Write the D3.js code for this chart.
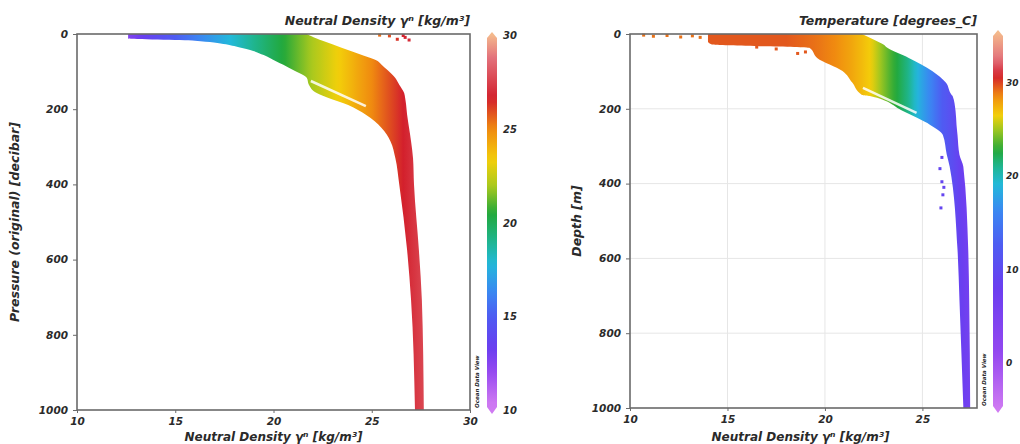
<!DOCTYPE html>
<html>
<head>
<meta charset="utf-8">
<script src="https://cdn.jsdelivr.net/npm/d3@7"></script>
<style>
  body { margin: 0; background: #fff; }
  svg text { font-family: "DejaVu Sans", sans-serif; font-weight: bold; font-style: italic; fill: #2a2a2a; }
</style>
</head>
<body>
<svg id="chart" width="1020" height="444"></svg>
<script>
// ---- data ----
// left panel: envelope of the scatter cloud (pressure in dbar, density bounds)
const leftP    = [0, 12, 18, 37, 56, 72, 82, 96, 117, 135, 157, 170, 189, 215, 250, 285, 330, 400, 575, 707, 1000];
const leftLow  = [12.6, 12.6, 16.0, 18.4, 19.5, 20.1, 20.5, 21.0, 21.7, 21.8, 22.2, 22.8, 23.8, 24.7, 25.5, 25.95, 26.2, 26.4, 26.8, 27.0, 27.2];
const leftHigh = [21.7, 22.2, 22.5, 23.5, 24.5, 25.3, 25.5, 25.8, 26.2, 26.4, 26.65, 26.7, 26.75, 26.8, 26.9, 27.0, 27.1, 27.15, 27.4, 27.55, 27.65];
const leftGap  = [[21.9, 125], [24.7, 192]];
const leftDots = [[25.4, 3], [25.9, 5], [26.3, 14], [26.6, 4], [26.9, 16], [26.7, 9]];

// right panel: envelope (depth in m, density bounds)
const rightP    = [0, 20, 28, 37, 64, 99, 130, 163, 166, 206, 243, 270, 323, 355, 577, 711, 1000];
const rightLow  = [14.0, 14.0, 14.2, 19.2, 19.6, 20.9, 21.4, 21.9, 22.3, 24.0, 25.4, 26.05, 26.25, 26.4, 26.8, 26.9, 27.1];
const rightHigh = [21.9, 22.7, 23.0, 23.2, 24.3, 25.5, 26.2, 26.5, 26.55, 26.7, 26.75, 26.8, 26.9, 27.1, 27.35, 27.4, 27.45];
const rightGap  = [[21.95, 144], [24.7, 211]];
// temperature seen along the density axis
const tempDens = [14, 18, 19.5, 20.5, 21.5, 22.3, 23.3, 24.3, 24.8, 25.4, 26.0, 26.6, 27.0, 27.5];
const tempVals = [29.5, 29.5, 29.0, 28.5, 27.5, 26.5, 23.5, 21, 18.5, 16, 12.5, 10, 8, 6];
const rightDots = [[10.7, 3, 29], [11.2, 6, 29], [11.9, 4, 29], [12.6, 8, 29], [13.2, 5, 29], [13.6, 9, 29],
                   [16.5, 35, 29.5], [17.5, 40, 29.5], [18.6, 52, 29.5], [19.0, 48, 29.5],
                   [26.0, 330, 9], [25.9, 360, 9], [26.0, 395, 9], [26.05, 430, 9], [25.95, 465, 9], [26.1, 410, 9]];

// colour bars (ODV rainbow)
const paletteColors = ["#f4b98c", "#e3727c", "#d3202c", "#f08a10", "#f3cf0a", "#a6c81e", "#22a83a",
                       "#1fb58e", "#22b9da", "#3a88f2", "#4e5cf2", "#6a3ef0", "#9448f0", "#cf7af2"];
const leftStops  = [30, 28.8, 26.6, 25.0, 23.3, 21.9, 20.5, 19.0, 17.8, 16.3, 15.0, 13.3, 12.1, 10.3];
const rightStops = [35.2, 32.4, 30.6, 28.5, 26.4, 25.0, 22.6, 21.0, 19.0, 16.2, 12.5, 8.0, 1.0, -5.0];

const yTicks = [0, 200, 400, 600, 800, 1000];
const leftXTicks = [10, 15, 20, 25, 30];
const rightXTicks = [10, 15, 20, 25];
const leftBarTicks = [10, 15, 20, 25, 30];
const rightBarTicks = [0, 10, 20, 30];

const svg = d3.select("#chart");
const defs = svg.append("defs");

const colorLeft = d3.scaleLinear().domain(leftStops).range(paletteColors).clamp(true);
const colorRight = d3.scaleLinear().domain(rightStops).range(paletteColors).clamp(true);
const tempAt = d3.scaleLinear().domain(tempDens).range(tempVals).clamp(true);

function panel(opt) {
    const x = d3.scaleLinear().domain(opt.xDomain).range(opt.xRange);
    const y = d3.scaleLinear().domain([0, 1000]).range(opt.yRange);   // pressure grows downward
    const top = opt.yRange[0], bottom = opt.yRange[1];
    const g = svg.append("g");

    // grid
    if (opt.grid) {
        g.selectAll(".gx").data(opt.xTicks.slice(1)).enter().append("line")
            .attr("x1", d => x(d)).attr("x2", d => x(d))
            .attr("y1", top).attr("y2", bottom)
            .attr("stroke", "#e6e6e6").attr("stroke-width", 1);
        g.selectAll(".gy").data(yTicks.slice(1, -1)).enter().append("line")
            .attr("x1", opt.xRange[0]).attr("x2", opt.xRange[1])
            .attr("y1", d => y(d)).attr("y2", d => y(d))
            .attr("stroke", "#e6e6e6").attr("stroke-width", 1);
    }

    // horizontal gradient over the density axis
    const gradId = opt.id + "-grad";
    const grad = defs.append("linearGradient").attr("id", gradId)
        .attr("gradientUnits", "userSpaceOnUse")
        .attr("x1", opt.xRange[0]).attr("x2", opt.xRange[1]).attr("y1", 0).attr("y2", 0);
    d3.range(0, 1.0001, 0.01).forEach(t => {
        const dens = x.invert(opt.xRange[0] + t * (opt.xRange[1] - opt.xRange[0]));
        grad.append("stop").attr("offset", t).attr("stop-color", opt.densColor(dens));
    });

    const rows = opt.p.map((p, i) => ({ p, lo: opt.low[i], hi: opt.high[i] }));
    const area = d3.area()
        .y(d => y(d.p))
        .x0(d => x(d.lo))
        .x1(d => x(d.hi))
        .curve(d3.curveMonotoneY);
    g.append("path").datum(rows).attr("d", area).attr("fill", `url(#${gradId})`);

    // white sliver inside the cloud
    g.append("path").datum(opt.gap)
        .attr("d", d3.line().x(d => x(d[0])).y(d => y(d[1])))
        .attr("stroke", "#fff").attr("stroke-width", 2.5).attr("fill", "none").attr("opacity", 0.85);

    g.selectAll(".dot").data(opt.dots).enter().append("rect")
        .attr("x", d => x(d[0]) - 1.5).attr("y", d => y(d[1]) - 1.5)
        .attr("width", 3).attr("height", 3)
        .attr("fill", d => opt.dotColor(d));

    // frame
    g.append("rect")
        .attr("x", opt.xRange[0]).attr("y", top)
        .attr("width", opt.xRange[1] - opt.xRange[0]).attr("height", bottom - top)
        .attr("fill", "none").attr("stroke", "#6a6a6a").attr("stroke-width", 1.6);

    // axes
    const ya = g.append("g").attr("transform", `translate(${opt.xRange[0]},0)`)
        .call(d3.axisLeft(y).tickValues(yTicks).tickFormat(d3.format("d")).tickSize(4).tickPadding(5));
    const xa = g.append("g").attr("transform", `translate(0,${bottom})`)
        .call(d3.axisBottom(x).tickValues(opt.xTicks).tickSize(3).tickPadding(5));
    [ya, xa].forEach(a => {
        a.select(".domain").remove();
        a.selectAll("line").attr("stroke", "#6a6a6a");
        a.selectAll("text").attr("font-size", 10.5).attr("fill", "#333");
    });

    // titles
    g.append("text").attr("x", opt.xRange[1]).attr("y", 25).attr("text-anchor", "end")
        .attr("font-size", 12.5).text(opt.title);
    g.append("text").attr("x", (opt.xRange[0] + opt.xRange[1]) / 2 + opt.xLabelShift).attr("y", 441)
        .attr("text-anchor", "middle").attr("font-size", 12).text("Neutral Density γⁿ [kg/m³]");
    g.append("text")
        .attr("transform", `translate(${opt.yLabelX},${(top + bottom) / 2}) rotate(-90)`)
        .attr("text-anchor", "middle").attr("font-size", 12.5).text(opt.yLabel);
    g.append("text")
        .attr("transform", `translate(${opt.xRange[1] + 9},${bottom - 2}) rotate(-90)`)
        .attr("font-size", 5.5).attr("font-style", "normal").attr("font-weight", "normal").attr("fill", "#555")
        .text("Ocean Data View");

    // colour bar
    const cb = d3.scaleLinear().domain(opt.barDomain).range(opt.barRange);
    const barId = opt.id + "-bar";
    const bg = defs.append("linearGradient").attr("id", barId)
        .attr("gradientUnits", "userSpaceOnUse")
        .attr("x1", 0).attr("x2", 0).attr("y1", opt.barRange[0]).attr("y2", opt.barRange[1]);
    d3.range(0, 1.0001, 0.02).forEach(t => {
        bg.append("stop").attr("offset", t).attr("stop-color", opt.barColor(cb.invert(opt.barRange[0] + t * (opt.barRange[1] - opt.barRange[0]))));
    });
    const bx0 = opt.barX, bx1 = opt.barX + 10, btop = opt.barRange[1], bbot = opt.barRange[0];
    const pts = [[bx0, btop + 3], [bx0 + 5, btop - 3], [bx1, btop + 3], [bx1, bbot - 3], [bx0 + 5, bbot + 4], [bx0, bbot - 3]];
    g.append("path").attr("d", d3.line()(pts) + "Z").attr("fill", `url(#${barId})`);
    g.selectAll(".cbt").data(opt.barTicks).enter().append("text")
        .attr("x", bx1 + opt.barLabelPad).attr("y", d => cb(d) + 4)
        .attr("font-size", opt.barFont).attr("fill", "#333").text(d => d);
}

panel({
    id: "left", xDomain: [10, 30], xRange: [77, 470], yRange: [34, 410],
    xTicks: leftXTicks, grid: false,
    p: leftP, low: leftLow, high: leftHigh, gap: leftGap, dots: leftDots,
    densColor: d => colorLeft(d), dotColor: d => colorLeft(d[0]),
    title: "Neutral Density γⁿ [kg/m³]", yLabel: "Pressure (original) [decibar]", yLabelX: 19, xLabelShift: 0,
    barDomain: [10, 30], barRange: [410, 35], barX: 487, barColor: v => colorLeft(v), barTicks: leftBarTicks,
    barLabelPad: 6, barFont: 10
});

panel({
    id: "right", xDomain: [10, 27.8], xRange: [630, 977], yRange: [34, 408],
    xTicks: rightXTicks, grid: true,
    p: rightP, low: rightLow, high: rightHigh, gap: rightGap, dots: rightDots,
    densColor: d => colorRight(tempAt(d)), dotColor: d => colorRight(d[2]),
    title: "Temperature [degrees_C]", yLabel: "Depth [m]", yLabelX: 581, xLabelShift: -3,
    barDomain: [-5, 35.2], barRange: [409, 33], barX: 993, barColor: v => colorRight(v), barTicks: rightBarTicks,
    barLabelPad: 3, barFont: 9
});
</script>
</body>
</html>
